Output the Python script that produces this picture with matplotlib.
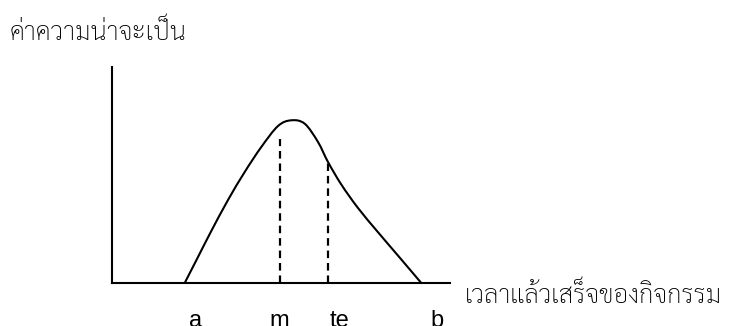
import matplotlib
matplotlib.use("Agg")
import numpy as np
import matplotlib.pyplot as plt
from matplotlib.path import Path
from matplotlib.patches import PathPatch

# Completion-time distribution (schematic), read as points along the curve
time_pts = [7.27, 8.6, 9.93, 11.6, 13.27, 14.93, 16.6, 17.93, 19.27,
            20.6, 21.6, 22.93, 24.6, 26.6, 28.6, 30.93]
prob_pts = [0.0, 2.6, 5.2, 8.3, 11.1, 13.6, 15.7, 16.27, 15.93,
            14.1, 12.1, 9.85, 7.5, 5.08, 2.74, 0.0]

# Reference lines: most likely time (m) and expected time (te)
ref_x = [16.77, 21.6]
ref_h = [14.43, 12.1]

# Axis annotations
tick_labels = ["a", "m", "te", "b"]
tick_pos = [8.4, 16.7, 22.7, 32.5]
y_title = "ค่าความน่าจะเป็น"
x_title = "เวลาแล้วเสร็จของกิจกรรม"

THAI = ["Sarabun", "DejaVu Sans"]

W, H = 730, 326
fig = plt.figure(figsize=(W / 100, H / 100), dpi=100)
ax = fig.add_axes([112 / W, 43 / H, 338 / W, 216 / H])
ax.set_xlim(0, 33.8)
ax.set_ylim(0, 21.6)
for side in ("top", "right"):
    ax.spines[side].set_visible(False)
for side in ("left", "bottom"):
    ax.spines[side].set_linewidth(1.5)
    ax.spines[side].set_color("black")
ax.set_xticks([])
ax.set_yticks([])
ax.patch.set_alpha(0)


def smooth_path(xs, ys):
    """Catmull-Rom through the points, as cubic Bezier segments."""
    p = np.column_stack([xs, ys])
    ext = np.vstack([p[0], p, p[-1]])
    verts = [tuple(p[0])]
    codes = [Path.MOVETO]
    for i in range(1, len(ext) - 2):
        p0, p1, p2, p3 = ext[i - 1], ext[i], ext[i + 1], ext[i + 2]
        c1 = p1 + (p2 - p0) / 6.0
        c2 = p2 - (p3 - p1) / 6.0
        verts += [tuple(c1), tuple(c2), tuple(p2)]
        codes += [Path.CURVE4] * 3
    return Path(verts, codes)


ax.add_patch(PathPatch(smooth_path(time_pts, prob_pts), fill=False,
                       lw=1.5, edgecolor="black", capstyle="round",
                       joinstyle="round"))

for x, h in zip(ref_x, ref_h):
    ax.plot([x, x], [0, h], color="black", lw=1.6,
            linestyle=(0, (3.4, 2.2)), solid_capstyle="butt")

for lab, x in zip(tick_labels, tick_pos):
    ax.text(x, -4.4, lab, ha="center", va="baseline", fontsize=17,
            family=["Liberation Sans", "DejaVu Sans"], clip_on=False)

fig.text(10 / W, 1 - 40 / H, y_title, ha="left", va="baseline",
         fontsize=18.6, fontweight="light", family=THAI)
fig.text(465 / W, 1 - 303 / H, x_title, ha="left", va="baseline",
         fontsize=18.6, fontweight="light", family=THAI)

fig.savefig("out.png", dpi=100)
